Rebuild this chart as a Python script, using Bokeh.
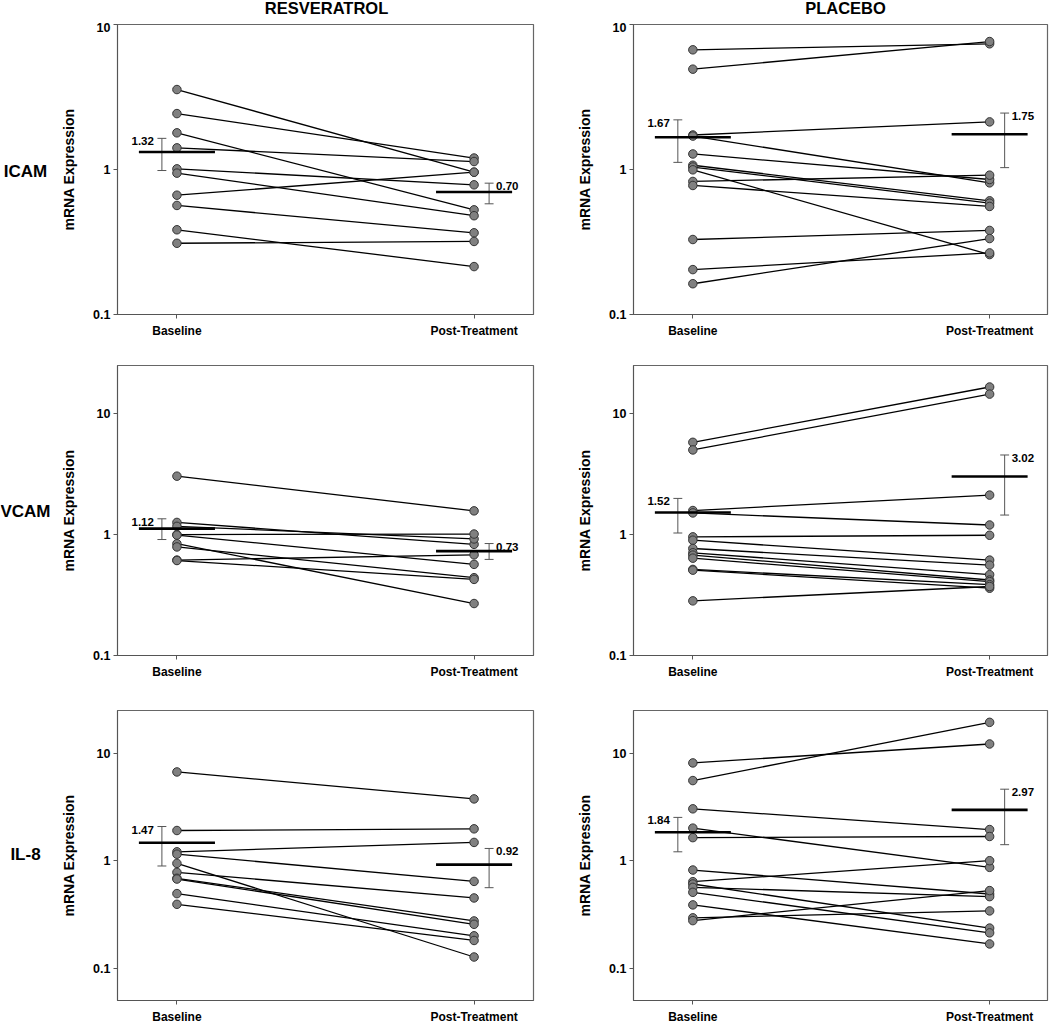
from bokeh.plotting import figure
from bokeh.layouts import column, row
from bokeh.models import Range1d, FixedTicker, CustomJSTickFormatter, ColumnDataSource
from bokeh.core.properties import value
from bokeh.embed import file_html
from bokeh.resources import INLINE

# ---------------- data ----------------
conditions = ["Baseline", "Post-Treatment"]
groups = ["RESVERATROL", "PLACEBO"]
markers = ["ICAM", "VCAM", "IL-8"]
y_ticks = [0.1, 1, 10]

icam_res_base = [3.56, 2.43, 1.79, 1.41, 1.01, 0.944, 0.665, 0.565, 0.384, 0.310]
icam_res_post = [0.958, 1.20, 0.527, 1.135, 0.784, 0.480, 0.958, 0.366, 0.214, 0.319]
icam_res_mean = [1.32, 0.70]
icam_res_lo = [0.984, 0.58]
icam_res_hi = [1.64, 0.805]

icam_pla_base = [6.69, 4.92, 1.73, 1.70, 1.28, 1.07, 1.04, 0.995, 0.827, 0.776, 0.329, 0.204, 0.163]
icam_pla_post = [7.36, 7.63, 2.13, 0.809, 0.853, 0.608, 0.586, 0.259, 0.914, 0.556, 0.380, 0.266, 0.334]
icam_pla_mean = [1.67, 1.75]
icam_pla_lo = [1.12, 1.03]
icam_pla_hi = [2.20, 2.45]

vcam_res_base = [3.04, 1.26, 1.17, 1.00, 0.99, 0.84, 0.79, 0.615, 0.61]
vcam_res_post = [1.57, 0.83, 0.92, 1.01, 0.567, 0.269, 0.44, 0.68, 0.426]
vcam_res_mean = [1.12, 0.73]
vcam_res_lo = [0.91, 0.623]
vcam_res_hi = [1.35, 0.843]

vcam_pla_base = [5.79, 5.01, 1.58, 1.51, 0.957, 0.898, 0.767, 0.707, 0.676, 0.638, 0.515, 0.508, 0.283]
vcam_pla_post = [16.6, 14.5, 2.12, 1.20, 0.987, 0.615, 0.559, 0.466, 0.421, 0.408, 0.385, 0.360, 0.372]
vcam_pla_mean = [1.52, 3.02]
vcam_pla_lo = [1.03, 1.45]
vcam_pla_hi = [1.99, 4.55]

il8_res_base = [6.70, 1.91, 1.21, 1.15, 0.944, 0.779, 0.686, 0.675, 0.494, 0.393]
il8_res_post = [3.76, 1.98, 1.48, 0.642, 0.127, 0.450, 0.275, 0.256, 0.200, 0.181]
il8_res_mean = [1.47, 0.92]
il8_res_lo = [0.893, 0.561]
il8_res_hi = [2.08, 1.30]

il8_pla_base = [8.13, 5.57, 3.04, 2.01, 1.64, 0.819, 0.638, 0.607, 0.565, 0.508, 0.388, 0.294, 0.277]
il8_pla_post = [12.2, 19.4, 1.95, 0.867, 1.68, 0.490, 1.0, 0.236, 0.463, 0.213, 0.168, 0.341, 0.527]
il8_pla_mean = [1.84, 2.97]
il8_pla_lo = [1.21, 1.41]
il8_pla_hi = [2.53, 4.63]

y_limits = [(0.1, 10), (0.1, 25), (0.05, 25)]

panels = [
    [(icam_res_base, icam_res_post, icam_res_mean, icam_res_lo, icam_res_hi),
     (icam_pla_base, icam_pla_post, icam_pla_mean, icam_pla_lo, icam_pla_hi)],
    [(vcam_res_base, vcam_res_post, vcam_res_mean, vcam_res_lo, vcam_res_hi),
     (vcam_pla_base, vcam_pla_post, vcam_pla_mean, vcam_pla_lo, vcam_pla_hi)],
    [(il8_res_base, il8_res_post, il8_res_mean, il8_res_lo, il8_res_hi),
     (il8_pla_base, il8_pla_post, il8_pla_mean, il8_pla_lo, il8_pla_hi)],
]

# ---------------- layout constants ----------------
FONT = "Liberation Sans"
PAGE_W = 1050
TITLE_H = 22
LABEL_W = 56
border_top = [2, 25, 29]
border_bottom = [26, 25, 25]
frame_h = [290, 291, 291]
border_left = [61, 73]
border_right = [27, 3]
frame_w = [416, 414]
x_limits = [(-0.2, 1.2), (-0.2, 1.195)]
title_centers = [326, 845]       # page px
title_center_y = 7               # page px from top
rowlabel_center_x = 25
rowlabel_centers_y = [171, 511, 854]  # page px

ERR_DX = 0.0506   # error bar offset from category (data units)
CAP = 0.015
BAR = 0.128


def make_panel(r, c, data):
    base, post, means, lo, hi = data
    w = border_left[c] + frame_w[c] + border_right[c]
    h = border_top[r] + frame_h[r] + border_bottom[r]
    p = figure(width=w, height=h, y_axis_type="log",
               x_range=Range1d(*x_limits[c]), y_range=Range1d(*y_limits[r]),
               output_backend="svg", toolbar_location=None,
               min_border_left=border_left[c], min_border_right=border_right[c],
               min_border_top=border_top[r], min_border_bottom=border_bottom[r])
    p.xgrid.visible = False
    p.ygrid.visible = False
    p.outline_line_color = "#666666"
    p.outline_line_width = 1.2
    p.background_fill_color = "white"
    p.border_fill_color = "white"

    xi = list(range(len(conditions)))
    # x axis
    p.xaxis.ticker = FixedTicker(ticks=xi, minor_ticks=[])
    p.xaxis.major_label_overrides = {i: conditions[i] for i in xi}
    p.xaxis.major_tick_out = 4
    p.xaxis.major_tick_in = 0
    p.xaxis.minor_tick_line_color = None
    p.xaxis.axis_line_color = "#555555"
    p.xaxis.major_tick_line_color = "#555555"
    p.xaxis.major_label_standoff = 5
    p.xaxis.major_label_text_font = FONT
    p.xaxis.major_label_text_font_style = "bold"
    p.xaxis.major_label_text_font_size = "12px"
    p.xaxis.major_label_text_color = "black"
    # y axis
    p.yaxis.ticker = FixedTicker(ticks=y_ticks, minor_ticks=[])
    p.yaxis.formatter = CustomJSTickFormatter(code="return tick.toString();")
    p.yaxis.major_tick_out = 4
    p.yaxis.major_tick_in = 0
    p.yaxis.minor_tick_line_color = None
    p.yaxis.axis_line_color = "#555555"
    p.yaxis.major_tick_line_color = "#555555"
    p.yaxis.major_label_standoff = 3
    p.yaxis.major_label_text_font = FONT
    p.yaxis.major_label_text_font_style = "bold"
    p.yaxis.major_label_text_font_size = "12.5px"
    p.yaxis.major_label_text_color = "black"
    p.yaxis.axis_label = "mRNA Expression"
    p.yaxis.axis_label_text_font = FONT
    p.yaxis.axis_label_text_font_style = "bold"
    p.yaxis.axis_label_text_font_size = "14px"
    p.yaxis.axis_label_text_color = "black"
    p.yaxis.axis_label_standoff = 13

    # paired lines
    n = len(base)
    p.segment(x0=[xi[0]] * n, y0=base, x1=[xi[1]] * n, y1=post,
              line_color="black", line_width=1.3)
    # points
    p.scatter(x=[xi[0]] * n, y=base, size=8.5, fill_color="#808080",
              line_color="#333333", line_width=1)
    p.scatter(x=[xi[1]] * n, y=post, size=8.5, fill_color="#808080",
              line_color="#333333", line_width=1)

    # error bars (offset outward) and mean bars
    side = [-1, 1]
    ex = [xi[k] + side[k] * ERR_DX for k in range(2)]
    p.segment(x0=ex, y0=lo, x1=ex, y1=hi, line_color="#555555", line_width=1)
    p.segment(x0=[e - CAP for e in ex], y0=lo, x1=[e + CAP for e in ex], y1=lo,
              line_color="#555555", line_width=1)
    p.segment(x0=[e - CAP for e in ex], y0=hi, x1=[e + CAP for e in ex], y1=hi,
              line_color="#555555", line_width=1)
    p.segment(x0=[x - BAR for x in xi], y0=means, x1=[x + BAR for x in xi], y1=means,
              line_color="black", line_width=2.6)

    # mean value labels
    src_l = ColumnDataSource(dict(x=[ex[0]], y=[hi[0]], t=["%.2f" % means[0]]))
    src_r = ColumnDataSource(dict(x=[ex[1]], y=[hi[1]], t=["%.2f" % means[1]]))
    p.text(x="x", y="y", text="t", source=src_l, text_align="right",
           text_baseline="middle", x_offset=-8, y_offset=3,
           text_font=value(FONT), text_font_style="bold", text_font_size="11.5px",
           text_color="black")
    p.text(x="x", y="y", text="t", source=src_r, text_align="left",
           text_baseline="middle", x_offset=7, y_offset=3,
           text_font=value(FONT), text_font_style="bold", text_font_size="11.5px",
           text_color="black")
    return p


def blank(w, h):
    f = figure(width=w, height=h, x_range=Range1d(0, w), y_range=Range1d(0, h),
               output_backend="svg", toolbar_location=None,
               x_axis_location=None, y_axis_location=None, min_border=0)
    f.xgrid.visible = False
    f.ygrid.visible = False
    f.outline_line_color = None
    f.background_fill_color = "white"
    f.border_fill_color = "white"
    return f


# column titles strip
title_fig = blank(PAGE_W, TITLE_H)
title_fig.text(x=title_centers, y=[TITLE_H - title_center_y] * len(groups), text=groups,
               text_align="center", text_baseline="middle",
               text_font=value(FONT), text_font_style="bold", text_font_size="16.5px",
               text_color="black")

# row labels strip
panels_h = sum(border_top[r] + frame_h[r] + border_bottom[r] for r in range(3))
label_fig = blank(LABEL_W, panels_h)
label_fig.text(x=[rowlabel_center_x] * len(markers),
               y=[panels_h - (yc - TITLE_H) for yc in rowlabel_centers_y],
               text=markers, text_align="center", text_baseline="middle",
               text_font=value(FONT), text_font_style="bold", text_font_size="17px",
               text_color="black")

rows = []
for r in range(3):
    rows.append(row(*[make_panel(r, c, panels[r][c]) for c in range(2)], spacing=0))
grid = column(*rows, spacing=0)
layout = column(title_fig, row(label_fig, grid, spacing=0), spacing=0)

open("out.html", "w").write(file_html(layout, INLINE))
